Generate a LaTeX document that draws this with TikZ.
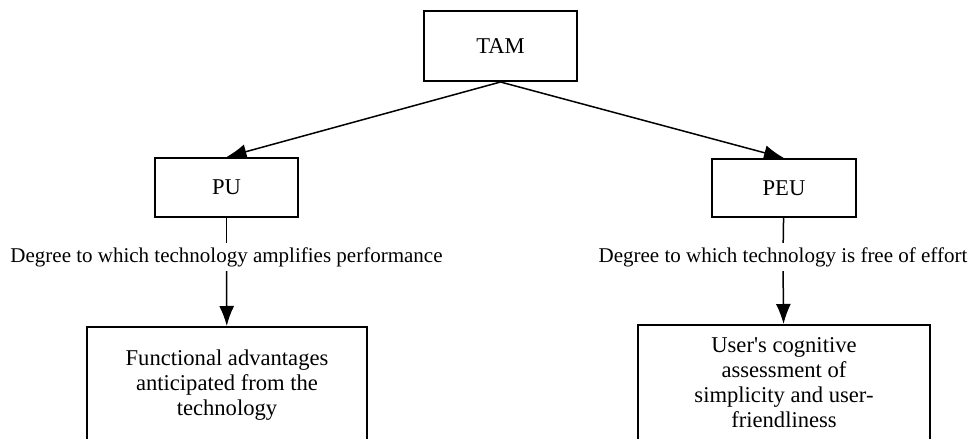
\documentclass[tikz,border=0pt]{standalone}
\usepackage{fontspec}
\setmainfont{Liberation Serif}
\usetikzlibrary{arrows.meta}
\begin{document}
\begin{tikzpicture}[x=0.5pt,y=-0.5pt,
    box/.style={draw,line width=1pt,align=center,font=\fontsize{11.3}{12.5}\selectfont},
    desc/.style={inner sep=2pt,font=\fontsize{10.5}{12}\selectfont},
    arr/.style={line width=0.75pt,-{Latex[length=10pt,width=7.5pt]}}]
      \useasboundingbox (0,0) rectangle (971,439);
      \clip (0,0) rectangle (971,439);
      \draw
        (500.5,46) node[box,minimum width=76.5pt,minimum height=35pt] (tam){TAM}
        (226.5,187.5) node[box,minimum width=71.5pt,minimum height=29.5pt] (pu){PU}
        (784,188) node[box,minimum width=72pt,minimum height=29pt] (peu){PEU}
        (226.5,257) node[desc] (pudesc){Degree to which technology amplifies performance}
        (783,257) node[desc] (peudesc){Degree to which technology is free of effort}
        (227,385) node[box,minimum width=140pt,minimum height=58pt] (puexpl){Functional advantages\\anticipated from the\\technology}
        (784,383) node[box,minimum width=146pt,minimum height=58pt] (peuexpl){User\textquotesingle s cognitive\\assessment of\\simplicity and user-\\friendliness};
      \begin{scope}[line width=0.75pt]
        \draw[arr] (tam.south) to (pu.north);
        \draw[arr] (tam.south) to (peu.north);
        \draw (pu) to (pudesc);
        \draw (peu) to (peudesc);
        \draw[arr] (pudesc) to (puexpl);
        \draw[arr] (peudesc) to (peuexpl);
      \end{scope}
\end{tikzpicture}
\end{document}
